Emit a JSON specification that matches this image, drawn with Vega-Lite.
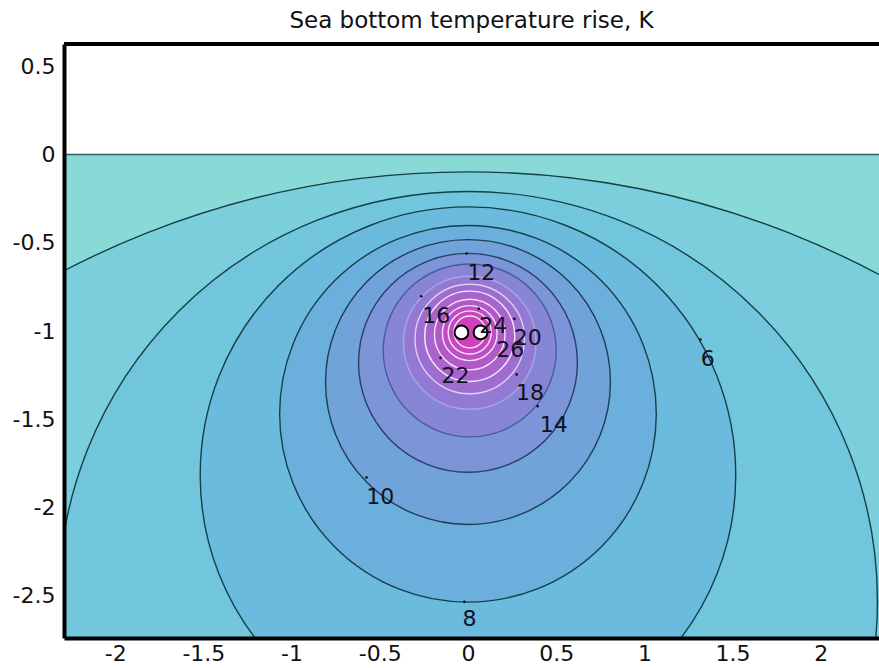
{
  "$schema": "https://vega.github.io/schema/vega-lite/v6.json",
  "width": 815,
  "height": 594,
  "padding": {"left": 64, "top": 44, "right": 0, "bottom": 30},
  "autosize": {"type": "none"},
  "background": "white",
  "view": {"stroke": null},
  "title": {"text": "Sea bottom temperature rise, K", "font": "DejaVu Sans", "fontSize": 23, "fontWeight": "normal", "color": "#111111", "anchor": "middle", "offset": 9},
  "config": {
    "axis": {"labelFont": "DejaVu Sans", "labelFontSize": 22, "labelColor": "#111111", "ticks": false, "grid": false, "domainColor": "#000000", "domainWidth": 4, "title": null, "labelFlush": false, "labelOverlap": false}
  },
  "datasets": {
    "bed": [{"level": 0, "x1": -2.29, "x2": 2.33, "y1": -2.74, "y2": 0}],
    "contours": [
      {"level": 2, "cx": 0, "cy": -5.05, "r": 4.95},
      {"level": 4, "cx": 0, "cy": -2.53, "r": 2.32},
      {"level": 6, "cx": 0, "cy": -1.817, "r": 1.517},
      {"level": 8, "cx": 0, "cy": -1.469, "r": 1.067},
      {"level": 10, "cx": 0, "cy": -1.289, "r": 0.807},
      {"level": 12, "cx": 0, "cy": -1.18, "r": 0.62},
      {"level": 14, "cx": 0.01, "cy": -1.11, "r": 0.49},
      {"level": 16, "cx": 0.01, "cy": -1.066, "r": 0.375},
      {"level": 18, "cx": 0.01, "cy": -1.045, "r": 0.31},
      {"level": 20, "cx": 0.01, "cy": -1.03, "r": 0.255},
      {"level": 22, "cx": 0.01, "cy": -1.02, "r": 0.2},
      {"level": 24, "cx": 0.01, "cy": -1.012, "r": 0.155},
      {"level": 26, "cx": 0.01, "cy": -1.008, "r": 0.122},
      {"level": 28, "cx": 0.01, "cy": -1.005, "r": 0.09}
    ],
    "labels": [
      {"t": "12", "x": 0.075, "y": -0.670},
      {"t": "16", "x": -0.180, "y": -0.912},
      {"t": "24", "x": 0.144, "y": -0.973},
      {"t": "20", "x": 0.339, "y": -1.039},
      {"t": "26", "x": 0.239, "y": -1.109},
      {"t": "22", "x": -0.071, "y": -1.256},
      {"t": "18", "x": 0.352, "y": -1.350},
      {"t": "14", "x": 0.486, "y": -1.535},
      {"t": "10", "x": -0.497, "y": -1.939},
      {"t": "8", "x": 0.008, "y": -2.635},
      {"t": "6", "x": 1.359, "y": -1.158}
    ],
    "dots": [
      {"x": -0.008, "y": -0.561},
      {"x": -0.265, "y": -0.803},
      {"x": 0.061, "y": -0.873},
      {"x": 0.263, "y": -0.931},
      {"x": -0.156, "y": -1.152},
      {"x": 0.276, "y": -1.246},
      {"x": 0.395, "y": -1.426},
      {"x": -0.575, "y": -1.830},
      {"x": -0.020, "y": -2.535},
      {"x": 1.317, "y": -1.048}
    ],
    "sources": [
      {"x": -0.037, "y": -1.008},
      {"x": 0.071, "y": -1.008}
    ],
    "lines": [
      {"kind": "seabed", "y": 0},
      {"kind": "frame", "y": 0.627}
    ]
  },
  "layer": [
    {
      "data": {"name": "bed"},
      "mark": {"type": "rect", "clip": true},
      "encoding": {
        "x": {"field": "x1", "type": "quantitative", "scale": {"domain": [-2.29, 2.33], "nice": false, "zero": false}, "axis": {"values": [-2, -1.5, -1, -0.5, 0, 0.5, 1, 1.5, 2], "format": "~g", "labelExpr": "replace(datum.label, '−', '-')", "labelPadding": 5, "zindex": 1}},
        "x2": {"field": "x2"},
        "y": {"field": "y1", "type": "quantitative", "scale": {"domain": [-2.74, 0.627], "nice": false, "zero": false}, "axis": {"values": [-2.5, -2, -1.5, -1, -0.5, 0, 0.5], "format": "~g", "labelExpr": "replace(datum.label, '−', '-')", "labelPadding": 9, "zindex": 1}},
        "y2": {"field": "y2"},
        "fill": {"field": "level", "type": "ordinal", "legend": null,
          "scale": {"domain": [0, 2, 4, 6, 8, 10, 12, 14, 16, 18, 20, 22, 24, 26, 28],
                    "range": ["#89d9d7", "#7bcfdc", "#71c6de", "#6bbbde", "#6bafdc", "#72a2da", "#7c94d8", "#8786d6", "#9379d3", "#9d6dd0", "#a863cc", "#b259c8", "#bd4ec4", "#c746c0", "#d03fbc"]}}
      }
    },
    {
      "data": {"name": "contours"},
      "mark": {"type": "point", "shape": "circle", "filled": true, "opacity": 1, "strokeWidth": 0, "clip": true},
      "encoding": {
        "x": {"field": "cx", "type": "quantitative"},
        "y": {"field": "cy", "type": "quantitative"},
        "size": {"field": "r", "type": "quantitative", "legend": null, "scale": {"type": "pow", "exponent": 2, "domain": [0, 5], "range": [0, 3115225]}},
        "fill": {"field": "level", "type": "ordinal", "legend": null},
        "order": {"field": "level", "type": "quantitative"}
      }
    },
    {
      "data": {"name": "contours"},
      "mark": {"type": "point", "shape": "circle", "filled": false, "opacity": 1, "strokeWidth": 1.4, "clip": true},
      "encoding": {
        "x": {"field": "cx", "type": "quantitative"},
        "y": {"field": "cy", "type": "quantitative"},
        "size": {"field": "r", "type": "quantitative", "legend": null},
        "stroke": {"field": "level", "type": "ordinal", "legend": null,
          "scale": {"domain": [2, 4, 6, 8, 10, 12, 14, 16, 18, 20, 22, 24, 26, 28],
                    "range": ["#163f47", "#163f47", "#163f47", "#173f4c", "#1c3f55", "#263f66", "#4a5c95", "#a9a6dd", "#ddd0f0", "#f3e6f8", "#f3e6f8", "#f3e6f8", "#f3e6f8", "#f3e6f8"]}},
        "order": {"field": "level", "type": "quantitative"}
      }
    },
    {
      "data": {"name": "lines"},
      "transform": [{"filter": "datum.kind === 'seabed'"}],
      "mark": {"type": "rule", "color": "#2f5f66", "strokeWidth": 1.5},
      "encoding": {"y": {"field": "y", "type": "quantitative"}}
    },
    {
      "data": {"name": "sources"},
      "mark": {"type": "point", "shape": "circle", "filled": true, "opacity": 1, "fill": "white", "stroke": "black", "strokeWidth": 2, "size": 190},
      "encoding": {
        "x": {"field": "x", "type": "quantitative"},
        "y": {"field": "y", "type": "quantitative"}
      }
    },
    {
      "data": {"name": "dots"},
      "mark": {"type": "point", "shape": "circle", "filled": true, "opacity": 1, "color": "#111111", "size": 7},
      "encoding": {
        "x": {"field": "x", "type": "quantitative"},
        "y": {"field": "y", "type": "quantitative"}
      }
    },
    {
      "data": {"name": "labels"},
      "mark": {"type": "text", "font": "DejaVu Sans", "fontSize": 22, "color": "#111122", "align": "center", "baseline": "middle"},
      "encoding": {
        "x": {"field": "x", "type": "quantitative"},
        "y": {"field": "y", "type": "quantitative"},
        "text": {"field": "t", "type": "nominal"}
      }
    },
    {
      "data": {"name": "lines"},
      "transform": [{"filter": "datum.kind === 'frame'"}],
      "mark": {"type": "rule", "color": "#000000", "strokeWidth": 4},
      "encoding": {"y": {"field": "y", "type": "quantitative"}}
    }
  ]
}
